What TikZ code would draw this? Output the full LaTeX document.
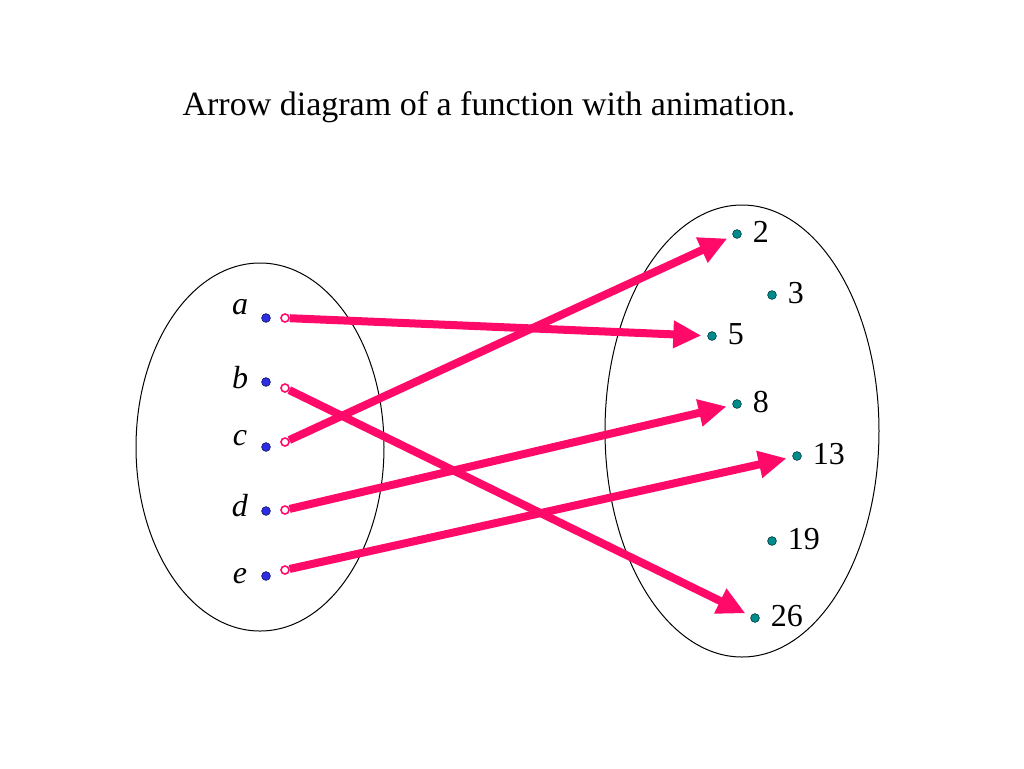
\documentclass[tikz,border=0pt]{standalone}
\usepackage{fontspec}
\setmainfont{Liberation Serif}
\usepackage{xcolor}
\usepackage{tikz}
\usetikzlibrary{arrows.meta}
\definecolor{arrowpink}{RGB}{255,10,105}
\definecolor{domdot}{RGB}{45,45,230}
\definecolor{coddot}{RGB}{0,140,140}
\tikzset{
  dom/.style = {circle,fill=domdot,draw=domdot!40!black,line width=0.3pt,inner sep=0pt,minimum size=4.4pt},
  cod/.style = {circle,fill=coddot,draw=coddot!40!black,line width=0.3pt,inner sep=0pt,minimum size=4.4pt},
  tailpt/.style = {circle,fill=white,draw=arrowpink,line width=0.8pt,inner sep=0pt,minimum size=4pt},
  maparrow/.style = {arrowpink,line width=4pt,-{Triangle[length=14pt,width=13pt]},shorten >=3pt}
}

\begin{document}
\begin{tikzpicture}[x=0.5pt,y=-0.5pt]
  \useasboundingbox (0,0) rectangle (1024,768);
  %%% title
  \node[anchor=base,font=\fontsize{17}{19}\selectfont] (title) at (489,115)
    {Arrow diagram of a function with animation.};
  %%% the two sets
  \draw[line width=0.5pt] (260,447) ellipse [x radius=124, y radius=184];
  \draw[line width=0.5pt] (742,431) ellipse [x radius=137, y radius=226];
  %%% domain
  \foreach \nm/\yy/\ly/\ty in {a/318/307/318, b/382/378/388, c/447/438/442, d/511/506/510, e/576/576/570} {
    \node[dom] (\nm) at (266,\yy) {};
    \node[font=\fontsize{16}{18}\selectfont] (l\nm) at (240,\ly) {\textit{\nm}};
    \node[tailpt] (t\nm) at (285,\ty) {};
  }
  %%% codomain
  \foreach \nm/\xx/\yy in {2/737/234, 3/772/295, 5/712/336, 8/737/404, 13/797/456, 19/772/541, 26/755/618} {
    \node[cod,label={[font=\fontsize{16}{18}\selectfont,label distance=2pt,yshift=1pt]right:\nm}] (n\nm) at (\xx,\yy) {};
  }
  %%% the function
  \draw[maparrow] (ta) -- (n5);
  \draw[maparrow] (tb) -- (n26);
  \draw[maparrow] (tc) -- (n2);
  \draw[maparrow] (td) -- (n8);
  \draw[maparrow] (te) -- (n13);
\end{tikzpicture}
\end{document}
